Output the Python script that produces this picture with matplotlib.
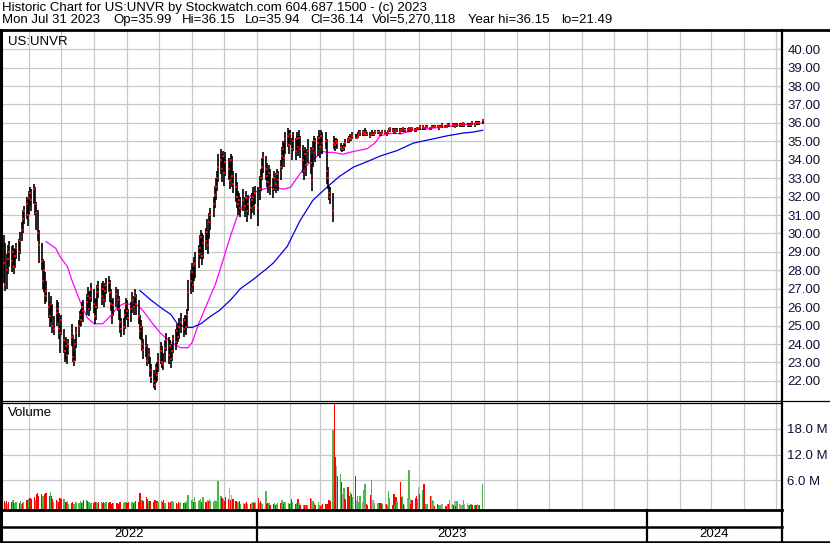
import numpy as np
import pandas as pd
import matplotlib
matplotlib.use('Agg')
import matplotlib.pyplot as plt
from matplotlib.lines import Line2D

plt.rcParams['font.family'] = ['Liberation Sans', 'DejaVu Sans']

# ---- daily bars, 2022-05-06 .. 2023-07-31 (one row = two weeks) ----
dates = pd.bdate_range('2022-05-06', '2023-07-31')

close = [29.7,
    28.4, 27.2, 28.0, 28.6, 29.0,  28.5, 29.0, 28.2, 28.8, 29.2,
    29.0, 29.6, 30.2, 30.8, 31.2,  31.6, 31.0, 31.9, 32.2, 31.8,
    32.4, 31.6, 31.1, 30.0, 29.4,  28.5, 27.4, 28.0, 26.6, 26.9,
    26.0, 25.5, 26.2, 25.0, 24.8,  25.7, 25.9, 24.8, 24.6, 25.3,
    24.2, 23.6, 23.9, 23.4, 24.0,  24.4, 23.3, 23.1, 24.0, 24.6,
    25.0, 25.6, 25.3, 26.0, 25.8,  26.3, 26.6, 25.9, 26.5, 27.0,
    26.2, 25.5, 26.0, 26.8, 27.1,  26.6, 27.0, 26.4, 26.9, 27.2,
    27.3, 26.8, 26.2, 25.6, 26.1,  26.7, 26.4, 25.9, 25.2, 24.8,
    24.9, 25.6, 26.2, 25.8, 25.4,  25.9, 26.4, 26.0, 26.6, 26.2,
    25.5, 24.7, 24.9, 24.0, 23.7,  23.9, 23.1, 23.4, 22.6, 22.2,
    22.0, 21.8, 22.7, 22.3, 23.1,  23.6, 23.0, 22.9, 23.8, 24.2,
    23.4, 23.9, 23.2, 23.6, 24.3,  24.1, 24.7, 24.4, 24.9, 25.2,
    24.8, 25.3, 24.9, 25.6, 26.8,  27.4, 27.9, 27.2, 28.3, 28.4,
    28.9, 29.2, 29.8, 28.8, 29.5,  29.6, 30.1, 29.4, 30.6, 31.0,
    31.6, 32.1, 32.5, 33.0, 33.6,  34.0, 33.5, 34.2, 33.3, 33.9,
    33.5, 32.9, 34.0, 33.1, 32.7,  32.5, 32.0, 31.6, 31.8, 31.4,
    31.8, 31.5, 31.9, 31.2, 31.6,  31.4, 31.8, 32.0, 31.5, 32.2,
    31.4, 32.4, 33.0, 33.6, 34.1,  33.5, 33.1, 32.8, 33.3, 32.6,
    32.4, 33.0, 32.7, 33.2, 32.9,  33.6, 34.2, 34.6, 34.1, 35.1,
    35.3, 34.8, 35.4, 34.6, 35.0,  34.5, 35.1, 34.7, 35.2, 34.6,
    34.0, 33.4, 34.3, 33.7, 34.5,  33.8, 32.9, 34.6, 35.0, 34.4,
    34.9, 35.2, 34.7, 35.3, 34.9,  35.0, 33.4, 33.0, 32.2, 32.0,
    31.2, 34.9, 34.8, 35.0, 34.9,  34.7, 34.6, 34.6, 34.7, 34.9,
    35.0, 35.1, 35.2, 35.1, 35.3,  35.2, 35.2, 35.3, 35.4, 35.5,
    35.5, 35.4, 35.5, 35.4, 35.4,  35.3, 35.4, 35.4, 35.4, 35.5,
    35.5, 35.5, 35.4, 35.4, 35.5,  35.5, 35.4, 35.5, 35.6, 35.7,
    35.6, 35.5, 35.5, 35.6, 35.6,  35.5, 35.6, 35.7, 35.6, 35.6,
    35.6, 35.7, 35.7, 35.6, 35.7,  35.6, 35.6, 35.7, 35.7, 35.8,
    35.8, 35.7, 35.7, 35.8, 35.8,  35.7, 35.7, 35.8, 35.8, 35.8,
    35.8, 35.7, 35.8, 35.8, 35.9,  35.8, 35.8, 35.8, 35.9, 35.9,
    35.9, 35.9, 35.8, 35.9, 35.9,  35.9, 35.9, 35.9, 36.0, 35.9,
    35.9, 35.9, 35.9, 35.9, 36.0,  35.9, 36.0, 36.0, 36.0, 36.0,
    36.14]

high = [30.7,
    29.9, 29.5, 28.9, 29.4, 29.6,  29.3, 29.4, 29.1, 29.2, 29.5,
    29.7, 30.1, 30.6, 31.3, 31.5,  32.0, 31.8, 32.3, 32.5, 32.4,
    32.7, 32.5, 31.7, 31.3, 30.2,  29.5, 28.6, 28.5, 27.9, 27.4,
    26.8, 26.3, 26.6, 26.2, 25.5,  26.4, 26.3, 25.7, 25.0, 25.6,
    24.8, 24.3, 24.4, 24.0, 24.3,  25.1, 24.5, 23.6, 24.3, 24.9,
    25.3, 25.8, 25.9, 26.3, 26.4,  26.7, 27.1, 26.8, 26.9, 27.3,
    27.0, 26.4, 26.5, 27.2, 27.4,  27.3, 27.4, 27.1, 27.3, 27.6,
    27.7, 27.5, 27.0, 26.4, 26.5,  27.1, 27.0, 26.6, 25.9, 25.4,
    25.4, 25.9, 26.5, 26.4, 25.9,  26.3, 26.8, 26.6, 27.0, 26.7,
    26.4, 25.6, 25.3, 25.0, 24.3,  24.5, 24.0, 23.8, 23.3, 22.9,
    22.6, 22.4, 22.9, 23.0, 23.5,  24.1, 23.9, 23.5, 24.2, 24.6,
    24.4, 24.2, 23.8, 24.0, 24.5,  24.8, 25.1, 25.0, 25.4, 25.7,
    25.4, 25.6, 25.5, 25.9, 27.5,  28.0, 28.4, 28.2, 28.7, 29.0,
    29.4, 29.9, 30.2, 30.0, 29.9,  30.3, 30.8, 30.2, 31.1, 31.4,
    32.0, 32.6, 33.0, 33.4, 34.3,  34.6, 34.3, 34.5, 34.1, 34.4,
    34.1, 33.8, 34.3, 34.2, 33.4,  33.3, 32.8, 32.3, 32.2, 32.0,
    32.4, 32.0, 32.3, 31.8, 32.1,  31.9, 32.2, 32.5, 32.1, 32.6,
    32.5, 33.1, 33.5, 34.1, 34.4,  34.2, 33.8, 33.4, 33.7, 33.5,
    33.0, 33.4, 33.3, 33.5, 33.4,  34.0, 34.7, 35.0, 34.9, 35.5,
    35.7, 35.6, 35.6, 35.2, 35.5,  35.2, 35.5, 35.3, 35.6, 35.3,
    34.8, 34.5, 34.7, 34.6, 35.1,  34.7, 34.3, 35.0, 35.3, 35.2,
    35.3, 35.6, 35.4, 35.6, 35.5,  35.5, 35.1, 33.6, 32.6, 32.5,
    32.2, 35.3, 35.1, 35.2, 35.1,  34.9, 34.8, 34.8, 34.9, 35.1,
    35.2, 35.3, 35.4, 35.3, 35.5,  35.4, 35.4, 35.5, 35.6, 35.6,
    35.6, 35.6, 35.7, 35.6, 35.5,  35.5, 35.6, 35.5, 35.5, 35.6,
    35.6, 35.6, 35.5, 35.5, 35.6,  35.6, 35.5, 35.6, 35.7, 35.8,
    35.7, 35.7, 35.6, 35.7, 35.7,  35.7, 35.7, 35.8, 35.7, 35.7,
    35.7, 35.8, 35.8, 35.7, 35.8,  35.7, 35.7, 35.8, 35.8, 35.9,
    35.9, 35.8, 35.8, 35.9, 35.9,  35.8, 35.8, 35.9, 35.9, 35.9,
    35.9, 35.8, 35.9, 35.9, 36.0,  35.9, 35.9, 35.9, 36.0, 36.0,
    36.0, 36.0, 35.9, 36.0, 36.0,  36.0, 36.0, 36.0, 36.0, 36.0,
    36.0, 36.0, 36.0, 36.0, 36.1,  36.0, 36.1, 36.1, 36.1, 36.1,
    36.15]

low = [28.2,
    27.3, 26.9, 27.0, 27.8, 28.2,  27.9, 28.3, 27.8, 28.1, 28.6,
    28.5, 28.9, 29.6, 30.0, 30.5,  30.8, 30.4, 31.0, 31.5, 31.2,
    31.6, 31.0, 30.2, 29.6, 28.4,  28.0, 27.0, 26.8, 26.2, 26.3,
    25.4, 24.9, 25.2, 24.6, 24.5,  25.0, 25.2, 24.3, 23.5, 24.5,
    23.5, 23.0, 23.2, 22.9, 23.4,  23.9, 23.0, 22.8, 23.1, 23.8,
    24.4, 24.9, 25.0, 25.3, 25.2,  25.6, 25.9, 25.5, 25.8, 26.3,
    25.7, 25.1, 25.3, 25.9, 26.5,  26.1, 26.5, 26.0, 26.3, 26.7,
    26.8, 26.3, 25.8, 25.1, 25.5,  26.0, 25.8, 25.3, 24.6, 24.4,
    24.5, 24.8, 25.4, 25.3, 24.9,  25.2, 25.7, 25.6, 26.0, 25.6,
    25.1, 24.3, 24.2, 23.6, 23.2,  23.3, 22.8, 22.9, 22.2, 21.9,
    21.6, 21.5, 21.9, 22.0, 22.5,  22.9, 22.7, 22.6, 23.0, 23.6,
    22.9, 23.2, 22.7, 23.1, 23.5,  23.7, 24.0, 24.1, 24.3, 24.6,
    24.4, 24.6, 24.5, 24.9, 25.8,  26.7, 27.1, 26.8, 27.4, 27.6,
    28.1, 28.6, 29.0, 28.3, 28.6,  29.1, 29.5, 28.9, 29.7, 30.2,
    30.9, 31.4, 31.8, 32.3, 32.8,  33.2, 32.8, 33.4, 32.6, 33.1,
    32.9, 32.4, 33.1, 32.5, 32.2,  31.7, 31.4, 31.0, 31.2, 30.9,
    31.2, 30.9, 31.3, 30.6, 31.0,  30.8, 31.1, 31.5, 31.0, 31.6,
    30.4, 31.8, 32.3, 32.9, 33.3,  32.9, 32.5, 32.2, 32.6, 32.1,
    31.9, 32.3, 32.2, 32.6, 32.3,  32.9, 33.5, 34.0, 33.6, 34.3,
    34.7, 34.3, 34.8, 34.0, 34.5,  34.0, 34.4, 34.2, 34.6, 34.1,
    33.3, 32.9, 33.6, 33.1, 33.8,  33.2, 32.3, 33.6, 34.4, 33.9,
    34.2, 34.6, 34.1, 34.8, 34.3,  34.6, 32.7, 32.4, 31.8, 31.6,
    30.6, 34.6, 34.5, 34.7, 34.6,  34.5, 34.4, 34.5, 34.5, 34.7,
    34.9, 34.9, 35.0, 35.0, 35.1,  35.1, 35.1, 35.2, 35.3, 35.3,
    35.3, 35.3, 35.4, 35.3, 35.3,  35.2, 35.3, 35.3, 35.3, 35.4,
    35.4, 35.4, 35.3, 35.3, 35.4,  35.4, 35.3, 35.4, 35.5, 35.5,
    35.5, 35.4, 35.4, 35.5, 35.5,  35.4, 35.5, 35.5, 35.5, 35.5,
    35.5, 35.5, 35.6, 35.5, 35.6,  35.5, 35.5, 35.6, 35.6, 35.6,
    35.6, 35.6, 35.6, 35.7, 35.7,  35.6, 35.6, 35.7, 35.7, 35.7,
    35.7, 35.6, 35.7, 35.7, 35.7,  35.7, 35.7, 35.7, 35.8, 35.8,
    35.8, 35.8, 35.7, 35.8, 35.8,  35.8, 35.8, 35.8, 35.8, 35.8,
    35.8, 35.8, 35.8, 35.8, 35.9,  35.8, 35.9, 35.9, 35.9, 35.9,
    35.94]

# volume in millions, colour code per bar: g up, r down, n unchanged
volume = [1.6,
    1.2, 0.8, 1.3, 0.6, 0.9,  1.0, 1.4, 0.7, 0.8, 1.0,
    0.8, 1.2, 0.6, 0.7, 1.1,  1.5, 1.0, 1.8, 2.0, 1.6,
    2.2, 1.5, 2.8, 3.0, 2.4,  2.8, 2.5, 2.0, 2.9, 3.0,
    2.5, 3.3, 2.5, 1.8, 1.0,  1.5, 1.3, 0.9, 2.0, 1.8,
    1.6, 0.9, 1.0, 1.2, 0.6,  0.7, 0.9, 0.6, 0.6, 1.0,
    0.8, 1.2, 0.7, 0.9, 1.4,  1.4, 1.2, 1.0, 0.9, 0.7,
    0.7, 1.1, 0.9, 0.8, 0.9,  1.0, 0.7, 0.9, 0.8, 1.1,
    0.7, 0.9, 0.6, 0.8, 0.8,  0.7, 0.8, 0.6, 0.9, 1.0,
    0.8, 1.1, 0.9, 0.8, 1.0,  0.9, 1.1, 0.8, 1.0, 1.2,
    1.1, 3.1, 1.4, 1.5, 1.3,  2.1, 1.8, 1.2, 1.3, 1.2,
    1.0, 1.4, 0.8, 1.3, 1.0,  1.3, 1.0, 1.5, 0.8, 0.7,
    1.1, 0.8, 1.0, 1.2, 1.0,  0.7, 0.6, 1.0, 0.8, 0.9,
    0.8, 1.0, 0.7, 1.2, 2.6,  1.5, 1.8, 1.0, 2.2, 1.0,
    1.3, 1.4, 1.6, 1.0, 2.1,  0.9, 1.4, 1.2, 1.6, 1.3,
    1.0, 1.5, 1.2, 1.3, 5.8,  2.4, 1.9, 1.7, 1.2, 2.2,
    1.6, 4.2, 1.5, 2.6, 1.6,  1.2, 0.8, 0.9, 1.2, 0.6,
    0.7, 0.6, 0.8, 0.9, 0.6,  0.6, 0.8, 0.9, 0.7, 1.0,
    1.9, 0.8, 1.2, 0.7, 0.6,  3.5, 0.5, 0.7, 0.8, 0.4,
    0.6, 0.7, 0.4, 0.5, 0.8,  0.7, 1.4, 0.9, 0.5, 1.0,
    0.7, 0.5, 0.8, 1.7, 0.9,  0.5, 0.8, 1.7, 0.8, 0.4,
    0.3, 0.4, 0.3, 0.2, 0.3,  1.9, 1.6, 1.2, 0.8, 0.4,
    0.9, 0.2, 0.1, 0.2, 0.5,  0.5, 0.6, 0.5, 1.4, 1.3,
    17.7, 26.0, 11.5, 9.3, 7.0,  7.5, 5.7, 2.8, 4.2, 1.8,
    4.4, 2.3, 3.3, 2.9, 2.2,  7.0, 1.4, 2.3, 1.1, 2.3,
    0.9, 3.7, 5.1, 0.5, 0.3,  2.6, 6.1, 1.4, 1.4, 0.8,
    0.8, 0.5, 0.8, 0.8, 0.6,  0.5, 0.6, 0.4, 3.5, 2.0,
    0.4, 2.8, 0.2, 2.2, 1.2,  5.6, 2.2, 2.3, 0.6, 0.4,
    2.0, 8.4, 1.8, 0.6, 1.4,  2.0, 2.5, 1.8, 4.4, 2.9,
    3.7, 5.1, 0.6, 0.6, 0.6,  2.3, 2.3, 1.4, 1.2, 0.15,
    0.6, 0.2, 0.2, 0.2, 0.6,  0.15, 0.15, 0.6, 0.6, 1.4,
    0.6, 0.4, 1.2, 0.15, 1.2,  0.6, 0.2, 0.2, 1.4, 0.6,
    0.7, 0.2, 0.3, 0.5, 0.3,  0.4, 0.3, 0.6, 0.2, 0.3,
    5.27]

vol_dir = ("r"
    "rgrnr rgrgg rggrg rrgrr rgrrr rggrr rgrrg rgrrr "
    "grrgg rrggg ggrgr grggg rrggr grrgg rrrrg rrrrr "
    "gggrr ggrgr rrrgr rrgrr rrgrg grrgg rgrgg rgrgg "
    "rgrgg ggrgg gggrg rgrgg ggggg grgrr rnrnr rrgrg "
    "grgrg rggrg rgrgg grrgr rgrgg rggrg grgrg rgrgr "
    "grgrg rgggr ggrgr rrrrr grrnr grngr rrgrg rnggg "
    "nggrr rgnng ggrrg grggg rrgrg rrgrn ngnrr rrgnr "
    "grrgg rnggr rgggn rrgrg grnrg nnggn ngrgr grngr "
    "g").replace(" ", "")

# moving averages
ma_short_dates = ['2022-06-17', '2022-06-26', '2022-06-30', '2022-07-07', '2022-07-11',
                  '2022-07-16', '2022-07-21', '2022-07-26', '2022-08-01', '2022-08-09',
                  '2022-08-16', '2022-08-23', '2022-08-29', '2022-09-11', '2022-09-16',
                  '2022-09-25', '2022-10-02', '2022-10-12', '2022-10-21', '2022-10-28',
                  '2022-11-01', '2022-11-07', '2022-11-15', '2022-11-23', '2022-11-29',
                  '2022-12-07', '2022-12-13', '2022-12-19', '2022-12-28', '2023-01-06',
                  '2023-01-13', '2023-01-19', '2023-01-25', '2023-02-01', '2023-02-07',
                  '2023-02-13', '2023-02-22', '2023-03-03', '2023-03-08', '2023-03-13',
                  '2023-03-22', '2023-04-01', '2023-04-14', '2023-04-21', '2023-04-26',
                  '2023-05-08', '2023-05-15', '2023-05-27', '2023-06-12', '2023-06-28',
                  '2023-07-13', '2023-07-31']
ma_short = [29.56, 29.2, 28.75, 28.2, 27.5,
            26.75, 26.0, 25.4, 25.1, 25.1,
            25.5, 26.0, 26.2, 26.1, 25.8,
            25.1, 24.6, 24.1, 23.8, 23.8,
            24.1, 25.1, 26.2, 27.3, 28.4,
            29.9, 30.9, 31.6, 32.2, 32.4,
            32.5, 32.5, 32.4, 32.5, 33.0,
            33.5, 34.0, 34.45, 34.4, 34.4,
            34.3, 34.45, 34.6, 34.9, 35.3,
            35.45, 35.4, 35.6, 35.7, 35.8,
            35.9, 36.0]

ma_long_dates = ['2022-09-13', '2022-09-23', '2022-10-02', '2022-10-12', '2022-10-18',
                 '2022-10-26', '2022-11-01', '2022-11-09', '2022-11-18', '2022-11-27',
                 '2022-12-07', '2022-12-16', '2022-12-28', '2023-01-10', '2023-01-16',
                 '2023-01-29', '2023-02-10', '2023-02-22', '2023-03-07', '2023-03-19',
                 '2023-04-01', '2023-04-14', '2023-04-26', '2023-05-12', '2023-05-27',
                 '2023-06-12', '2023-06-28', '2023-07-13', '2023-07-22', '2023-07-31']
ma_long = [26.9, 26.4, 26.0, 25.6, 25.1,
           24.9, 24.9, 25.1, 25.5, 25.85,
           26.4, 27.0, 27.5, 28.1, 28.4,
           29.3, 30.7, 31.8, 32.5, 33.1,
           33.6, 33.9, 34.2, 34.5, 34.9,
           35.1, 35.3, 35.45, 35.5, 35.6]

price_ticks = list(range(22, 41))
vol_ticks = [6, 12, 18]
years = ['2022', '2023', '2024']

header1 = "Historic Chart for US:UNVR by Stockwatch.com 604.687.1500 - (c) 2023"
header2 = ["Mon Jul 31 2023", "Op=35.99", "Hi=36.15", "Lo=35.94", "Cl=36.14",
           "Vol=5,270,118", "Year hi=36.15", "lo=21.49"]
header2_x = [2, 113, 182, 245, 310, 372, 468, 561]

# ---- layout in pixels ----
W, H = 830, 543
fig = plt.figure(figsize=(8.3, 5.43), dpi=100)


def box(l, t, r, b):
    return [l / W, 1 - b / H, (r - l) / W, (b - t) / H]


def hline(y, x0, x1, lw):
    fig.add_artist(Line2D([x0 / W, x1 / W], [1 - y / H, 1 - y / H],
                          transform=fig.transFigure, color='black', lw=lw))


def vline(x, y0, y1, lw):
    fig.add_artist(Line2D([x / W, x / W], [1 - y0 / H, 1 - y1 / H],
                          transform=fig.transFigure, color='black', lw=lw))


ax = fig.add_axes(box(1, 30, 781, 401))
axv = fig.add_axes(box(1, 403, 781, 509.5))
axd = fig.add_axes(box(1, 510, 781, 541.5))

x0 = pd.Timestamp('2022-05-05 19:00')
x1 = pd.Timestamp('2024-05-05 15:00')
months = pd.date_range('2022-06-01', '2024-05-01', freq='MS')
GRID = '#c8c8c8'
FS = 9.5

for a in (ax, axv, axd):
    a.set_xlim(x0, x1)
    for s in a.spines.values():
        s.set_visible(False)
    a.tick_params(length=0)
    a.set_xticks(months)
    a.set_xticklabels([])

# price panel
ax.set_ylim(20.91, 41.04)
ax.set_yticks(price_ticks)
ax.grid(True, color=GRID, lw=0.9)
ax.set_axisbelow(True)
ax.yaxis.tick_right()
ax.set_yticklabels(['%.2f' % v for v in price_ticks], fontsize=FS, color='#101038')
ax.tick_params(axis='y', pad=4.5)

ax.vlines(dates, low, high, color='black', lw=1.2, zorder=3)
ax.plot(dates, close, 's', color='red', ms=1.6, mew=0, zorder=4)
ax.plot(pd.to_datetime(ma_short_dates), ma_short, color='#ff00ff', lw=0.9, zorder=2)
ax.plot(pd.to_datetime(ma_long_dates), ma_long, color='#0000f0', lw=0.9, zorder=2)

# volume panel
cmap = {'g': '#4cb84c', 'r': '#ff0000', 'n': '#a6a6a6'}
vbase = -0.75
axv.set_ylim(vbase, 24.0)
axv.bar(dates, np.array(volume) - vbase, bottom=vbase, width=1.3,
        color=[cmap[c] for c in vol_dir], linewidth=0, zorder=3)
axv.set_yticks(vol_ticks)
axv.grid(True, color=GRID, lw=0.9)
axv.set_axisbelow(True)
axv.yaxis.tick_right()
axv.set_yticklabels(['%.1f M' % v for v in vol_ticks], fontsize=FS, color='#101038')
axv.tick_params(axis='y', pad=4.5)

# date strip
axd.set_ylim(0, 1)
axd.set_yticks([])
axd.grid(False)
bounds = [x0, pd.Timestamp('2023-01-01'), pd.Timestamp('2024-01-01'), x1]
for i, y in enumerate(years):
    mid = bounds[i] + (bounds[i + 1] - bounds[i]) / 2
    axd.text(mid, 0.25, y, ha='center', va='center', fontsize=FS)

# frame
hline(29.5, 0, W, 2.0)
vline(1, 29.5, 542, 2.2)
vline(781.5, 29.5, 542, 1.6)
hline(400.8, 0, W, 0.9)
hline(402.8, 0, 781.5, 0.9)
hline(510, 0, 781.5, 2.0)
hline(526.7, 0, 781.5, 1.8)
hline(541.8, 0, W, 1.8)
for yr in ('2023-01-01', '2024-01-01'):
    xp = 1 + (pd.Timestamp(yr) - x0) / (x1 - x0) * 780
    vline(xp, 510, 541.8, 1.6)

fig.text(2 / W, 1 - 7.5 / H, header1, fontsize=FS, va='center')
for t, xp in zip(header2, header2_x):
    fig.text(xp / W, 1 - 20 / H, t, fontsize=FS, va='center')
fig.text(8 / W, 1 - 42 / H, 'US:UNVR', fontsize=FS, va='center')
fig.text(8 / W, 1 - 413 / H, 'Volume', fontsize=FS, va='center')

fig.savefig('out.png', dpi=100)
